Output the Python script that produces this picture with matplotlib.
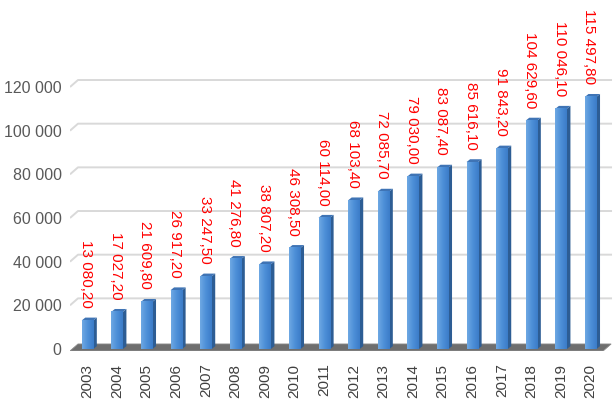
import numpy as np
import matplotlib
matplotlib.use("Agg")
import matplotlib.pyplot as plt
from matplotlib.patches import Polygon
from matplotlib.colors import LinearSegmentedColormap

plt.rcParams['font.family'] = ['Liberation Sans', 'DejaVu Sans']

# data
years = ['2003', '2004', '2005', '2006', '2007', '2008', '2009', '2010', '2011',
         '2012', '2013', '2014', '2015', '2016', '2017', '2018', '2019', '2020']
values = [13080.20, 17027.20, 21609.80, 26917.20, 33247.50, 41276.80, 38807.20,
          46308.50, 60114.00, 68103.40, 72085.70, 79030.00, 83087.40, 85616.10,
          91843.20, 104629.60, 110046.10, 115497.80]
yticks = [0, 20000, 40000, 60000, 80000, 100000, 120000]


def fmt(v, dec=2):
    s = f"{v:,.{dec}f}".replace(",", " ").replace(".", ",")
    return s


fig = plt.figure(figsize=(6.14, 4.01), dpi=100)
ax = fig.add_axes([70 / 614, 50 / 401, 544 / 614, 351 / 401])
ax.set_xlim(-0.591, 17.787)
ax.set_ylim(-916, 159847)
for s in ax.spines.values():
    s.set_visible(False)

# depth of the 3d look, in data units
dxb, dyb = 0.27, 3200     # back wall
dxs, dys = 0.12, 1300     # bar depth
x0, x1 = -0.591, 17.42

# gridlines on the back wall
for v in yticks[1:]:
    ax.plot([x0, x0 + dxb, 17.72], [v, v + dyb, v + dyb],
            color='#d9d9d9', lw=1.4, zorder=1, solid_capstyle='butt')

# floor
floor = Polygon([(x0, -900), (x1, -900), (x1 + dxb, -900 + dyb), (x0 + dxb, -900 + dyb)],
                closed=True, facecolor='#6e6e6e', edgecolor='#8a8a8a', lw=0.6, zorder=2)
ax.add_patch(floor)

cmap = LinearSegmentedColormap.from_list('bar', ['#6ea8e3', '#4d8fd8', '#3b7cc8'])
grad = np.linspace(0, 1, 64).reshape(1, -1)
w = 0.39
for i, v in enumerate(values):
    # side face
    side = Polygon([(i + w / 2, 0), (i + w / 2 + dxs, dys), (i + w / 2 + dxs, v + dys), (i + w / 2, v)],
                   closed=True, facecolor='#2d5d94', edgecolor='none', zorder=3)
    ax.add_patch(side)
    # top face
    top = Polygon([(i - w / 2, v), (i - w / 2 + dxs, v + dys), (i + w / 2 + dxs, v + dys), (i + w / 2, v)],
                  closed=True, facecolor='#3f74b5', edgecolor='none', zorder=3)
    ax.add_patch(top)
    # front face
    ax.imshow(grad, cmap=cmap, extent=[i - w / 2, i + w / 2, 0, v], aspect='auto',
              zorder=4, interpolation='bilinear')
    ax.annotate(fmt(v), (i, v), xytext=(-1, 9), textcoords='offset points',
                rotation=270, ha='center', va='bottom', color='#ff0000', fontsize=11,
                zorder=5)

ax.set_xlim(-0.591, 17.787)
ax.set_ylim(-916, 159847)

ax.set_yticks(yticks)
ax.set_yticklabels([fmt(t, 0) for t in yticks], color='#595959', fontsize=11.5)
ax.set_xticks(range(len(years)))
ax.set_xticklabels(years, rotation=90, color='#404040', fontsize=11)
ax.tick_params(axis='y', length=0, pad=6)
ax.tick_params(axis='x', length=0, pad=9)

fig.savefig('out.png', dpi=100)
